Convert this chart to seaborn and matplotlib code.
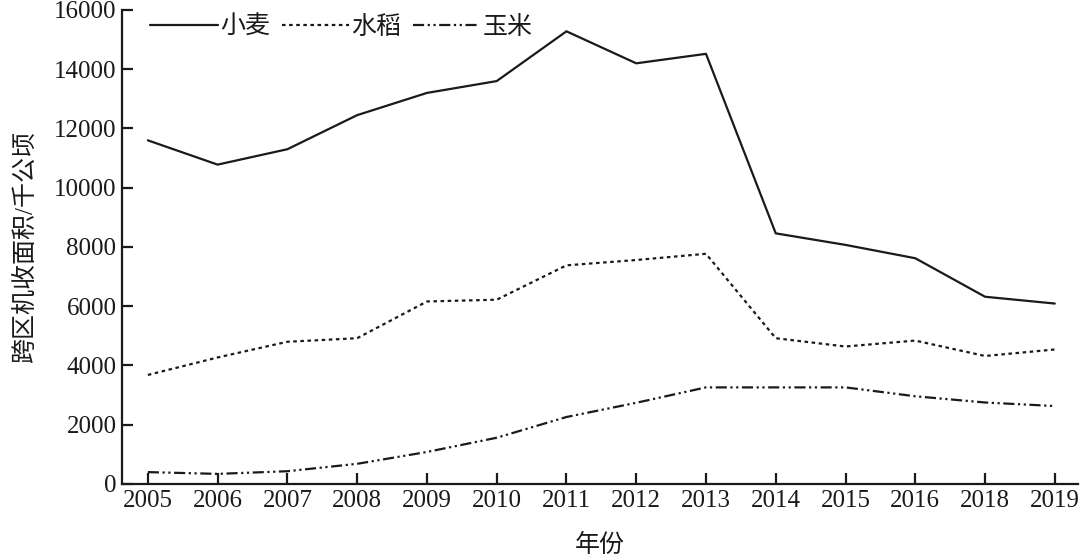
import matplotlib
matplotlib.use("Agg")
import matplotlib.pyplot as plt
import seaborn as sns
import pandas as pd

years = ['2005', '2006', '2007', '2008', '2009', '2010', '2011',
         '2012', '2013', '2014', '2015', '2016', '2018', '2019']
wheat = [11600, 10780, 11300, 12450, 13200, 13600, 15280,
         14200, 14520, 8460, 8070, 7620, 6320, 6090]
rice = [3680, 4270, 4800, 4920, 6160, 6220, 7380,
        7560, 7770, 4920, 4640, 4840, 4320, 4540]
corn = [400, 340, 430, 680, 1080, 1560, 2260,
        2740, 3260, 3260, 3260, 2960, 2750, 2630]
crops = ['小麦', '水稻', '玉米']

sns.set_style("ticks")
plt.rcParams['font.family'] = ['Liberation Serif', 'Noto Sans CJK SC']

df = pd.DataFrame({
    'year': years * 3,
    'area': wheat + rice + corn,
    'crop': [crops[0]] * len(years) + [crops[1]] * len(years) + [crops[2]] * len(years),
})
df['pos'] = df['year'].map({y: i for i, y in enumerate(years)})

fig, ax = plt.subplots(figsize=(10.8, 5.55), dpi=100)
fig.subplots_adjust(left=0.113, right=0.998, top=0.982, bottom=0.128)

dash_map = {'小麦': '', '水稻': (1.6, 1.6), '玉米': (5, 1.6, 1, 1.6, 1, 1.6)}
sns.lineplot(data=df, x='pos', y='area', style='crop', dashes=dash_map,
             color='#1a1a1a', linewidth=1.6, ax=ax, legend=True, sort=False)

ax.set_xticks(range(len(years)))
ax.set_xticklabels(years)
ax.set_xlim(-0.37, len(years) - 1 + 0.33)
ax.set_ylim(0, 16000)
ax.set_yticks(range(0, 16001, 2000))
ax.tick_params(direction='in', length=8, width=1.6, labelsize=18, colors='#1a1a1a', pad=4)
for s in ['top', 'right']:
    ax.spines[s].set_visible(False)
for s in ['left', 'bottom']:
    ax.spines[s].set_linewidth(1.6)
    ax.spines[s].set_color('#1a1a1a')

ax.set_xlabel('年份', fontsize=18, labelpad=16, color='#1a1a1a')
ax.set_ylabel('跨区机收面积/千公顷', fontsize=18, labelpad=12, color='#1a1a1a')

handles, labels = ax.get_legend_handles_labels()
ax.legend(handles, labels, ncol=3, frameon=False, loc='upper left',
          bbox_to_anchor=(0.006, 1.035), fontsize=18, handlelength=2.7,
          handletextpad=0.1, columnspacing=0.45, labelcolor='#1a1a1a')

fig.savefig('out.png', dpi=100)
